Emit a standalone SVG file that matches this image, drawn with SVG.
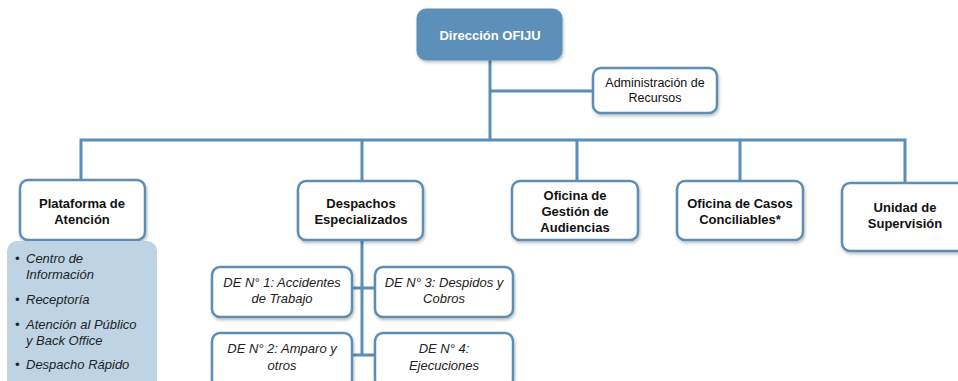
<svg xmlns="http://www.w3.org/2000/svg" width="958" height="381" viewBox="0 0 958 381">
<defs>
<filter id="sh" x="-10%" y="-10%" width="125%" height="140%">
<feDropShadow dx="1" dy="2" stdDeviation="1.5" flood-color="#000" flood-opacity="0.25"/>
</filter>
</defs>
<style>
.box{fill:#fff;stroke:#5b8db5;stroke-width:2.5}
.top{fill:#5b8fba;stroke:#5b8fba;stroke-width:1}
.list{fill:#bed4e4}
.con{fill:none;stroke:#5b8db5;stroke-width:3}
.b{font-family:"Liberation Sans",Arial,sans-serif;font-weight:bold;font-size:13px;fill:#111;text-anchor:middle}
.w{fill:#fff}
.r{font-family:"Liberation Sans",Arial,sans-serif;font-size:12.5px;fill:#111;text-anchor:middle}
.i{font-family:"Liberation Sans",Arial,sans-serif;font-style:italic;font-size:13px;fill:#222;text-anchor:middle}
.il{font-family:"Liberation Sans",Arial,sans-serif;font-style:italic;font-size:13px;fill:#222}
</style>
<rect width="958" height="381" fill="#fff"/>
<g id="connectors">
<path class="con" d="M490 60 V140"/>
<path class="con" d="M490 91 H593"/>
<path class="con" d="M81 180 V140 H905 V183"/>
<path class="con" d="M362 140 V181"/>
<path class="con" d="M577 140 V181"/>
<path class="con" d="M740 140 V181"/>
<path class="con" d="M362 240 V355"/>
<path class="con" d="M352 288 H375"/>
<path class="con" d="M352 355 H375"/>
</g>
<g id="direccion">
<rect class="top" x="417" y="9" width="145" height="51" rx="9" filter="url(#sh)"/>
<text class="b w" x="490" y="40">Dirección OFIJU</text>
</g>
<g id="administracion">
<rect class="box" x="593" y="68" width="124" height="45" rx="8" filter="url(#sh)"/>
<text class="r" x="655" y="87">Administración de</text>
<text class="r" x="655" y="102">Recursos</text>
</g>
<g id="plataforma">
<rect class="box" x="20" y="180" width="125" height="60" rx="8" filter="url(#sh)"/>
<text class="b" x="82" y="208">Plataforma de</text>
<text class="b" x="82" y="224">Atención</text>
</g>
<g id="plataforma-lista">
<rect class="list" x="7" y="241" width="150" height="150" rx="10"/>
<text class="il" x="15" y="263">•</text>
<text class="il" x="26" y="263">Centro de</text>
<text class="il" x="26" y="279">Información</text>
<text class="il" x="15" y="304">•</text>
<text class="il" x="26" y="304">Receptoría</text>
<text class="il" x="15" y="329">•</text>
<text class="il" x="26" y="329">Atención al Público</text>
<text class="il" x="26" y="345">y Back Office</text>
<text class="il" x="15" y="369">•</text>
<text class="il" x="26" y="369">Despacho Rápido</text>
</g>
<g id="despachos">
<rect class="box" x="298" y="181" width="125" height="59" rx="8" filter="url(#sh)"/>
<text class="b" x="361" y="208">Despachos</text>
<text class="b" x="361" y="224">Especializados</text>
</g>
<g id="gestion">
<rect class="box" x="512" y="181" width="126" height="59" rx="8" filter="url(#sh)"/>
<text class="b" x="575" y="200">Oficina de</text>
<text class="b" x="575" y="216">Gestión de</text>
<text class="b" x="575" y="232">Audiencias</text>
</g>
<g id="casos">
<rect class="box" x="677" y="181" width="126" height="59" rx="8" filter="url(#sh)"/>
<text class="b" x="740" y="208">Oficina de Casos</text>
<text class="b" x="740" y="224">Conciliables*</text>
</g>
<g id="unidad">
<rect class="box" x="842" y="183" width="126" height="68" rx="8" filter="url(#sh)"/>
<text class="b" x="905" y="212">Unidad de</text>
<text class="b" x="905" y="228">Supervisión</text>
</g>
<g id="de1">
<rect class="box" x="212" y="267" width="140" height="50" rx="8" filter="url(#sh)"/>
<text class="i" x="282" y="287">DE N° 1: Accidentes</text>
<text class="i" x="282" y="303">de Trabajo</text>
</g>
<g id="de3">
<rect class="box" x="375" y="267" width="138" height="50" rx="8" filter="url(#sh)"/>
<text class="i" x="444" y="287">DE N° 3: Despidos y</text>
<text class="i" x="444" y="303">Cobros</text>
</g>
<g id="de2">
<rect class="box" x="212" y="333" width="140" height="55" rx="8" filter="url(#sh)"/>
<text class="i" x="282" y="353">DE N° 2: Amparo y</text>
<text class="i" x="282" y="370">otros</text>
</g>
<g id="de4">
<rect class="box" x="375" y="333" width="138" height="55" rx="8" filter="url(#sh)"/>
<text class="i" x="444" y="353">DE N° 4:</text>
<text class="i" x="444" y="370">Ejecuciones</text>
</g>
</svg>
